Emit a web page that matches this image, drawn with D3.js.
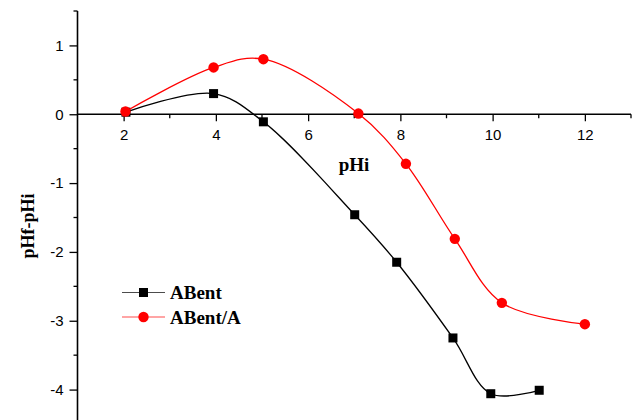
<!DOCTYPE html>
<html>
<head>
<meta charset="utf-8">
<script src="https://cdn.jsdelivr.net/npm/d3@7"></script>
<style>
  body { margin: 0; background: #fff; }
  svg { display: block; }
</style>
</head>
<body>
<div id="chart"></div>
<script>
// data
var abentX = [2.05, 3.95, 5.03, 7.01, 7.92, 9.14, 9.96, 11.01];
var abentY = [0.03, 0.30, -0.11, -1.46, -2.15, -3.25, -4.06, -4.01];
var abentAX = [2.04, 3.95, 5.03, 7.09, 8.12, 9.18, 10.2, 12.0];
var abentAY = [0.04, 0.68, 0.80, 0.01, -0.72, -1.81, -2.74, -3.05];
var xTicks = [2, 4, 6, 8, 10, 12];
var xMinor = [3, 5, 7, 9, 11, 13];
var yTicks = [-4, -3, -2, -1, 0, 1];
var yMinor = [-4.5, -3.5, -2.5, -1.5, -0.5, 0.5, 1.5];
var seriesNames = ["ABent", "ABent/A"];

var width = 637, height = 420;

var svg = d3.select("#chart").append("svg")
    .attr("width", width)
    .attr("height", height);

// scales
var x = d3.scaleLinear().domain([1, 13]).range([77.5, 631]);
var y = d3.scaleLinear().domain([-4.5, 1.5]).range([424, 11]);

var tickFont = "'Liberation Sans', Arial, sans-serif";
var labelFont = "'Liberation Serif', 'Times New Roman', serif";
var fmt = function(d) { return String(d); };   // plain hyphen minus like the original

// x axis sits on y = 0
var xAxis = d3.axisBottom(x)
    .tickValues(xTicks)
    .tickFormat(fmt)
    .tickSize(7)
    .tickSizeOuter(0)
    .tickPadding(8);

var gx = svg.append("g")
    .attr("transform", "translate(0," + y(0) + ")")
    .call(xAxis)
    .attr("font-family", tickFont)
    .attr("font-size", 15);
gx.select(".domain").remove();
gx.selectAll("text").attr("fill", "#000");
gx.selectAll("line").attr("stroke", "#000").attr("stroke-width", 1.3);

gx.selectAll("line.minor")
    .data(xMinor)
    .enter()
    .append("line")
    .classed("minor", true)
    .attr("x1", function(d) { return x(d); })
    .attr("x2", function(d) { return x(d); })
    .attr("y1", 0)
    .attr("y2", 4)
    .attr("stroke", "#000")
    .attr("stroke-width", 1.3);

gx.append("line")
    .attr("x1", x(1)).attr("x2", x(13))
    .attr("y1", 0).attr("y2", 0)
    .attr("stroke", "#000")
    .attr("stroke-width", 1.6);

// y axis on the left
var yAxis = d3.axisLeft(y)
    .tickValues(yTicks)
    .tickFormat(fmt)
    .tickSize(8)
    .tickSizeOuter(0)
    .tickPadding(6);

var gy = svg.append("g")
    .attr("transform", "translate(" + x(1) + ",0)")
    .call(yAxis)
    .attr("font-family", tickFont)
    .attr("font-size", 15);
gy.select(".domain").remove();
gy.selectAll("text").attr("fill", "#000");
gy.selectAll("line").attr("stroke", "#000").attr("stroke-width", 1.3);

gy.selectAll("line.minor")
    .data(yMinor)
    .enter()
    .append("line")
    .classed("minor", true)
    .attr("x1", -4)
    .attr("x2", 0)
    .attr("y1", function(d) { return y(d); })
    .attr("y2", function(d) { return y(d); })
    .attr("stroke", "#000")
    .attr("stroke-width", 1.3);

gy.append("line")
    .attr("x1", 0).attr("x2", 0)
    .attr("y1", y(1.5)).attr("y2", y(-4.5))
    .attr("stroke", "#000")
    .attr("stroke-width", 1.6);

// axis titles
svg.append("text")
    .attr("x", 354)
    .attr("y", 171)
    .attr("text-anchor", "middle")
    .style("font-family", labelFont)
    .style("font-size", "19px")
    .style("font-weight", "bold")
    .text("pHi");

svg.append("text")
    .attr("transform", "translate(34,226) rotate(-90)")
    .attr("text-anchor", "middle")
    .style("font-family", labelFont)
    .style("font-size", "18px")
    .style("font-weight", "bold")
    .text("pHf-pHi");

// series
var line = d3.line()
    .x(function(d) { return x(d[0]); })
    .y(function(d) { return y(d[1]); })
    .curve(d3.curveCatmullRom.alpha(0.5));

var abent = abentX.map(function(v, i) { return [v, abentY[i]]; });
var abentA = abentAX.map(function(v, i) { return [v, abentAY[i]]; });

svg.append("path")
    .datum(abent)
    .attr("d", line)
    .attr("fill", "none")
    .attr("stroke", "#000")
    .attr("stroke-width", 1.3);

svg.selectAll("rect.sq")
    .data(abent)
    .enter()
    .append("rect")
    .classed("sq", true)
    .attr("x", function(d) { return x(d[0]) - 4.5; })
    .attr("y", function(d) { return y(d[1]) - 4.5; })
    .attr("width", 9)
    .attr("height", 9)
    .attr("fill", "#000");

svg.append("path")
    .datum(abentA)
    .attr("d", line)
    .attr("fill", "none")
    .attr("stroke", "#ff0000")
    .attr("stroke-width", 1.3);

svg.selectAll("circle.dot")
    .data(abentA)
    .enter()
    .append("circle")
    .classed("dot", true)
    .attr("cx", function(d) { return x(d[0]); })
    .attr("cy", function(d) { return y(d[1]); })
    .attr("r", 5.2)
    .attr("fill", "#ff0000");

// legend
var legend = svg.append("g");
var legY = [292.5, 317];
var legColors = ["#000", "#ff0000"];

legend.selectAll("line")
    .data(seriesNames)
    .enter()
    .append("line")
    .attr("x1", 122).attr("x2", 165)
    .attr("y1", function(d, i) { return legY[i]; })
    .attr("y2", function(d, i) { return legY[i]; })
    .attr("stroke", function(d, i) { return legColors[i]; })
    .attr("stroke-opacity", 0.7)
    .attr("stroke-width", 1.2);

legend.append("rect")
    .attr("x", 143.5 - 4.5).attr("y", legY[0] - 4.5)
    .attr("width", 9).attr("height", 9)
    .attr("fill", "#000");

legend.append("circle")
    .attr("cx", 143.5).attr("cy", legY[1])
    .attr("r", 5.2)
    .attr("fill", "#ff0000");

legend.selectAll("text")
    .data(seriesNames)
    .enter()
    .append("text")
    .attr("x", 170)
    .attr("y", function(d, i) { return legY[i] + 6.5; })
    .style("font-family", labelFont)
    .style("font-size", "19px")
    .style("font-weight", "bold")
    .text(function(d) { return d; });
</script>
</body>
</html>
